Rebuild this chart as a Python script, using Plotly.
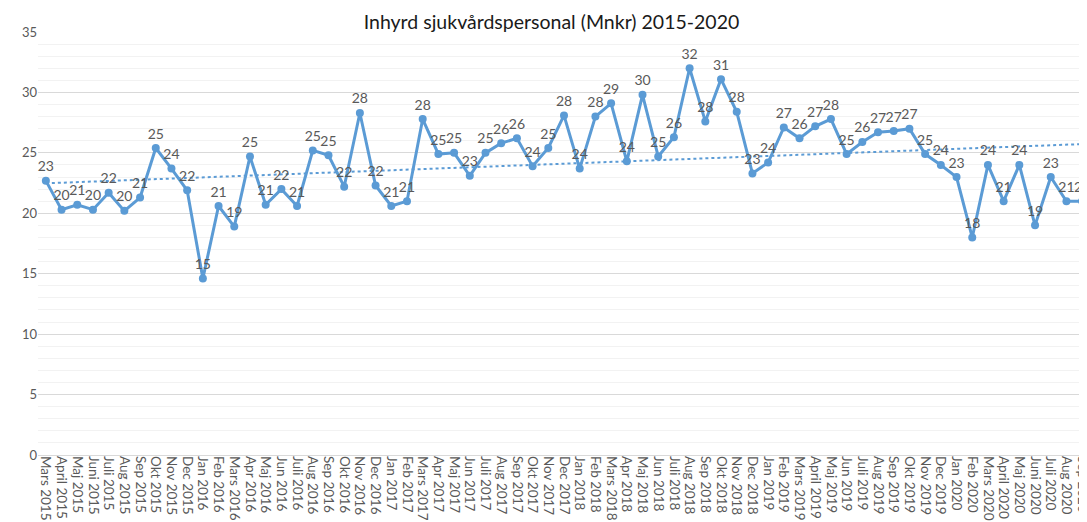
import numpy as np
import plotly.graph_objects as go

months = [
    "Mars 2015", "April 2015", "Maj 2015", "Juni 2015", "Juli 2015", "Aug 2015", "Sep 2015", "Okt 2015", "Nov 2015", "Dec 2015",
    "Jan 2016", "Feb 2016", "Mars 2016", "Apr 2016", "Maj 2016", "Jun 2016", "Juli 2016", "Aug 2016", "Sep 2016", "Okt 2016", "Nov 2016", "Dec 2016",
    "Jan 2017", "Feb 2017", "Mars 2017", "Apr 2017", "Maj 2017", "Jun 2017", "Juli 2017", "Aug 2017", "Sep 2017", "Okt 2017", "Nov 2017", "Dec 2017",
    "Jan 2018", "Feb 2018", "Mars 2018", "Apr 2018", "Maj 2018", "Jun 2018", "Juli 2018", "Aug 2018", "Sep 2018", "Okt 2018", "Nov 2018", "Dec 2018",
    "Jan 2019", "Feb 2019", "Mars 2019", "April 2019", "Maj 2019", "Jun 2019", "Juli 2019", "Aug 2019", "Sep 2019", "Okt 2019", "Nov 2019", "Dec 2019",
    "Jan 2020", "Feb 2020", "Mars 2020", "April 2020", "Maj 2020", "Juni 2020", "Juli 2020", "Aug 2020", "Sep 2020",
]

values = [
    22.7, 20.3, 20.7, 20.3, 21.7, 20.2, 21.3, 25.4, 23.7, 21.9,
    14.6, 20.6, 18.9, 24.7, 20.7, 22.0, 20.6, 25.2, 24.8, 22.2, 28.3, 22.3,
    20.6, 21.0, 27.8, 24.9, 25.0, 23.1, 25.0, 25.8, 26.2, 23.9, 25.4, 28.1,
    23.7, 28.0, 29.1, 24.3, 29.8, 24.7, 26.3, 32.0, 27.6, 31.1, 28.4, 23.3,
    24.2, 27.1, 26.2, 27.2, 27.8, 24.9, 25.9, 26.7, 26.8, 27.0, 24.9, 24.0,
    23.0, 18.0, 24.0, 21.0, 24.0, 19.0, 23.0, 21.0, 21.0,
]

title = "Inhyrd sjukvårdspersonal (Mnkr) 2015-2020"
blue = "#5B9BD5"
font_family = "Lato, 'Open Sans', sans-serif"

idx = np.arange(len(values))
slope, intercept = np.polyfit(idx, values, 1)
trend = slope * idx + intercept

fig = go.Figure()
fig.add_trace(go.Scatter(
    x=months, y=trend, mode="lines",
    line=dict(color=blue, width=2, dash="dot"),
    hoverinfo="skip", showlegend=False,
))
fig.add_trace(go.Scatter(
    x=months, y=values, mode="lines+markers+text",
    line=dict(color=blue, width=3),
    marker=dict(color=blue, size=8),
    text=[f"{v:.0f}" for v in values],
    textposition="top center",
    textfont=dict(family=font_family, size=14, color="#595959"),
    cliponaxis=False, showlegend=False,
))

fig.update_layout(
    width=1087, height=522,
    margin=dict(l=30, r=5, t=24, b=75),
    paper_bgcolor="white", plot_bgcolor="white",
    title=dict(text=title, x=0.5, xanchor="center", y=0.973, yanchor="middle",
               font=dict(family=font_family, size=19.5, color="#1a1a1a")),
    font=dict(family=font_family, color="#595959"),
)
fig.update_xaxes(
    type="category", range=[-0.5, len(values) - 0.5],
    tickmode="array", tickvals=months, ticktext=months,
    tickangle=90, tickfont=dict(size=13.5, color="#595959"),
    showgrid=False, showline=False, zeroline=False, automargin=False,
    ticks="",
)
fig.update_yaxes(
    range=[0, 35], dtick=5, tick0=0,
    tickfont=dict(size=13, color="#595959"),
    showgrid=True, gridcolor="#D9D9D9", gridwidth=1,
    zeroline=True, zerolinecolor="#D9D9D9", zerolinewidth=1,
    minor=dict(dtick=1, showgrid=True, gridcolor="#F2F2F2", gridwidth=1),
    showline=False, automargin=False, ticks="",
)

fig.write_html("out.html")
